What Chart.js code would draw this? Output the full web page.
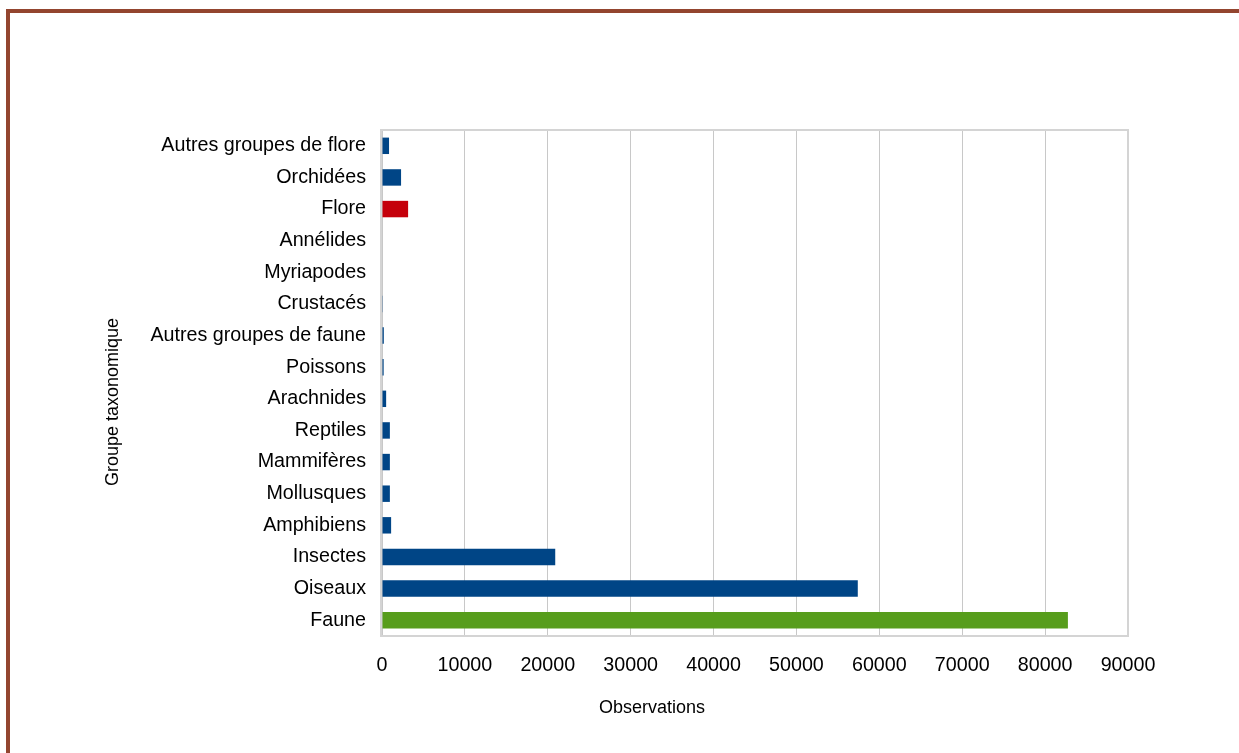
<!DOCTYPE html>
<html><head><meta charset="utf-8">
<script src="https://cdn.jsdelivr.net/npm/chart.js@4/dist/chart.umd.min.js"></script>
<style>
html,body{margin:0;padding:0;background:#fff;}
#wrap{position:absolute;left:0;top:0;width:1239px;height:753px;}
#frame{position:absolute;left:6px;top:9px;right:-10px;bottom:-10px;border-left:4px solid #93452f;border-top:4px solid #93452f;pointer-events:none;}
canvas{position:absolute;left:0;top:0;}
</style></head>
<body>
<div id="wrap"><canvas id="c" width="1239" height="753"></canvas><div id="frame"></div></div>
<script>
const categories = ["Autres groupes de flore","Orchidées","Flore","Annélides","Myriapodes","Crustacés","Autres groupes de faune","Poissons","Arachnides","Reptiles","Mammifères","Mollusques","Amphibiens","Insectes","Oiseaux","Faune"];
const observations = [850, 2300, 3150, 0, 0, 30, 220, 200, 500, 950, 950, 950, 1100, 20900, 57400, 82750];
const groupType = ["s","s","f","s","s","s","s","s","s","s","s","s","s","s","s","F"];
const xTicks = [0,10000,20000,30000,40000,50000,60000,70000,80000,90000];
const xTitle = "Observations";
const yTitle = "Groupe taxonomique";

const colorFor = {s:"#004586", f:"#c5000b", F:"#579d1c"};
const FONT = "'Liberation Sans', Arial, sans-serif";

const titles = {
  id:'titles',
  beforeDatasetsDraw(chart){
    const ctx = chart.ctx, a = chart.chartArea;
    ctx.save();
    ctx.strokeStyle = "#d4d4d4"; ctx.lineWidth = 2;
    ctx.strokeRect(a.left-1, a.top, a.right-a.left+1, a.bottom-a.top);
    ctx.restore();
  },
  afterDraw(chart){
    const ctx = chart.ctx, a = chart.chartArea;
    ctx.save();
    ctx.fillStyle = "#000";
    ctx.font = "18px " + FONT;
    ctx.textAlign = "center"; ctx.textBaseline = "middle";
    ctx.fillText(xTitle, a.left + (a.right-a.left)*0.362, a.bottom + 72);
    ctx.translate(113, (a.top+a.bottom)/2 + 19);
    ctx.rotate(-Math.PI/2);
    ctx.fillText(yTitle, 0, 0);
    ctx.restore();
  }
};

new Chart(document.getElementById('c'), {
  type:'bar',
  data:{labels:categories, datasets:[{data:observations, backgroundColor:groupType.map(t=>colorFor[t]), barPercentage:0.52, categoryPercentage:1}]},
  options:{
    indexAxis:'y', responsive:false, animation:false,
    layout:{padding:{top:130,right:111,left:0,bottom:0}},
    plugins:{legend:{display:false}, tooltip:{enabled:false}},
    scales:{
      x:{min:0,max:90000,
        afterBuildTicks(s){s.ticks = xTicks.map(v=>({value:v}));},
        afterFit(s){s.height = 117;},
        grid:{color:"#c8c8c8", lineWidth:1, drawTicks:false},
        border:{display:false},
        ticks:{color:"#000", font:{family:FONT,size:19.7}, padding:18, maxRotation:0, autoSkip:false, callback:(v)=>String(v)}
      },
      y:{
        afterFit(s){s.width = 382;},
        grid:{display:false, drawTicks:false},
        border:{display:false},
        ticks:{color:"#000", font:{family:FONT,size:19.7}, padding:16, autoSkip:false}
      }
    }
  },
  plugins:[titles]
});
</script>
</body></html>
